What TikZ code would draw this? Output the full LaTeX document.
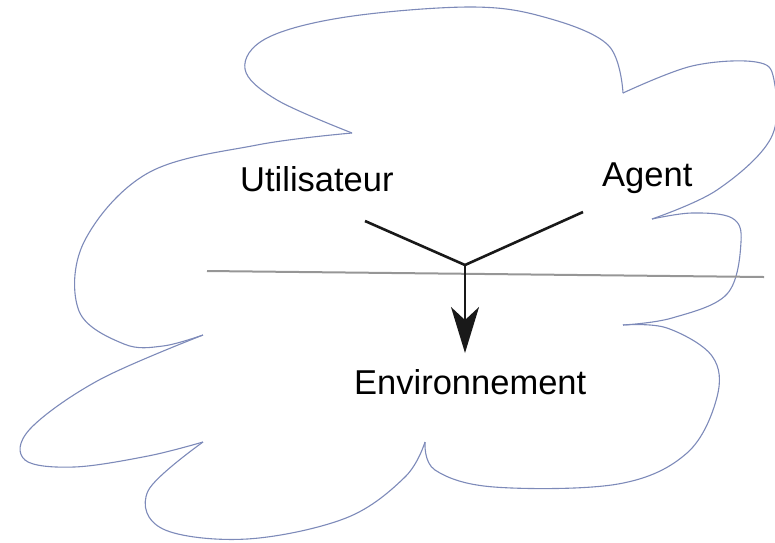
\documentclass[tikz,border=0pt]{standalone}
\usepackage{fontspec}
\setmainfont{Liberation Sans}
\usetikzlibrary{arrows.meta}
\definecolor{cloudc}{RGB}{125,138,185}
\definecolor{hline}{RGB}{150,150,150}
\begin{document}
\begin{tikzpicture}[x=1pt,y=-1pt,
  lbl/.style={inner sep=0pt,anchor=base west,font=\fontsize{34.5}{40}\selectfont},
  cloudline/.style={draw=cloudc,line width=1.1pt},
  arm/.style={draw=black!90,line width=2.6pt},
  sep/.style={draw=hline,line width=2pt}]
\useasboundingbox (0,0) rectangle (775,542);
% cloud
\draw[cloudline] plot[smooth,tension=0.6] coordinates {(352,133) (277,100) (245,69) (267,38) (346,17) (470,7) (544,17) (608,45) (623,93)};
\draw[cloudline] plot[smooth,tension=0.6] coordinates {(623,93) (692,66) (756,62) (774,80) (771,138) (717,190) (652,219)};
\draw[cloudline] plot[smooth,tension=0.6] coordinates {(652,219) (692,213) (732,218) (741,242) (727,294) (672,318) (623,325)};
\draw[cloudline] plot[smooth,tension=0.6] coordinates {(623,325) (667,328) (712,356) (717,397) (687,453) (618,484) (494,487) (435,470) (425,442)};
\draw[cloudline] plot[smooth,tension=0.6] coordinates {(425,442) (405,477) (346,518) (247,539) (163,529) (148,491) (203,442)};
\draw[cloudline] plot[smooth,tension=0.6] coordinates {(203,442) (148,456) (74,467) (25,460) (30,429) (99,380) (203,335)};
\draw[cloudline] plot[smooth,tension=0.6] coordinates {(203,335) (163,346) (124,344) (79,311) (84,242) (148,173) (257,145) (352,133)};
% separator line
\coordinate (l1) at (207,271);
\coordinate (l2) at (764,277);
\draw[sep] (l1) -- (l2);
% labels
\node[lbl] (util) at (240,191) {Utilisateur};
\node[lbl] (agent) at (602,186) {Agent};
\node[lbl] (env) at (354,394) {Environnement};
% Y connector
\coordinate (u) at (365,221);
\coordinate (a) at (583,212);
\coordinate (j) at (465,265);
\coordinate (t) at (465,353);
\draw[arm,line join=miter] (u) -- (j) -- (a);
\draw[arm,line width=2.2pt,-{Stealth[length=46pt,width=28pt,inset=13pt]}] (j) -- (t);
\end{tikzpicture}
\end{document}
